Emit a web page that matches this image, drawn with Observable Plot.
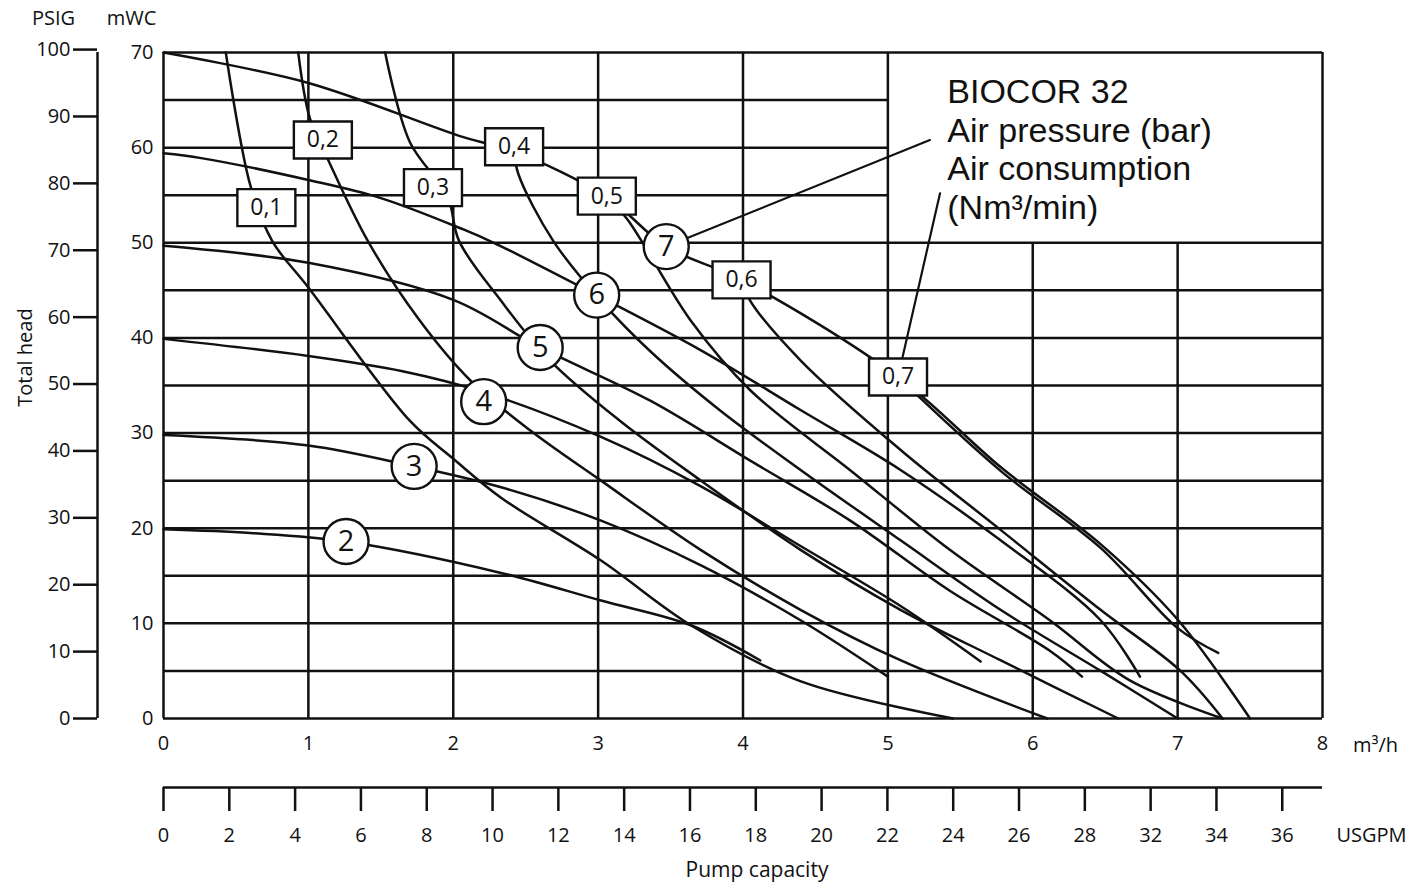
<!DOCTYPE html>
<html><head><meta charset="utf-8">
<script src="https://cdn.jsdelivr.net/npm/d3@7"></script>
<script src="https://cdn.jsdelivr.net/npm/@observablehq/plot@0.6"></script>
<style>
body{margin:0;background:#fff;}
#chart{width:1419px;height:884px;}
</style></head><body><div id="chart"></div>
<script>
// ---- data (flow in m3/h, head in mWC) ----
const m3Ticks = [0,1,2,3,4,5,6,7,8];
const mwcTicks = [0,10,20,30,40,50,60,70];
const psigTicks = [0,10,20,30,40,50,60,70,80,90,100];
const usgpmTicks = [0,2,4,6,8,10,12,14,16,18,20,22,24,26,28,30,32,34];
const usgpmLabels = ["0","2","4","6","8","10","12","14","16","18","20","22","24","26","28","32","34","36"];
const gridH = [0,5,10,15,20,25,30,35,40,45,50,70];
const gridHShort = [55,60,65];
const gridV = [0,1,2,3,4,5,8];
const gridVShort = [6,7];

// pressure curves (bar)
const p2 = [[0,19.9],[0.6,19.5],[1.26,18.6],[2.33,15.3],[3.02,12.4],[3.64,9.8],[4.12,6.1]];
const p3 = [[0,29.8],[1,28.7],[1.73,26.5],[2.33,24.3],[3.02,20.8],[3.71,16.1],[4.4,10.3],[5.0,4.4]];
const p4 = [[0,39.9],[1,38.1],[1.65,36.5],[2.21,34.3],[3.02,29.6],[3.71,24.4],[4.4,18.1],[5.09,11.8],[5.64,6.0]];
const p5 = [[0,49.7],[1,47.9],[2,44.0],[2.6,39.0],[3.36,33.4],[4.05,27.1],[4.74,20.8],[5.43,13.4],[6.12,7.1],[6.34,4.4]];
const p6 = [[0,59.4],[0.26,58.9],[1,56.6],[1.5,54.7],[2.07,51.4],[2.28,50.0],[2.99,44.5],[3.71,38.7],[4.4,32.4],[5.09,26.1],[5.78,18.7],[6.47,10.3],[6.74,4.4]];
const p7 = [[0,70],[1,66.8],[2.07,61.1],[2.42,59.6],[3.06,54.8],[3.47,49.6],[3.99,46.1],[5.07,35.9],[5.78,26.4],[6.47,18.3],[7.0,10.4],[7.5,0]];

// air consumption curves (Nm3/min)
const a01 = [[0.43,70],[0.6,56.0],[0.75,50.2],[1.0,45.3],[1.70,31.3],[2.0,27.3],[2.33,23.2],[3.02,16.6],[3.64,9.8],[4.40,3.9],[5.45,0]];
const a02 = [[0.93,70],[1.01,63.1],[1.14,58.6],[1.41,50.2],[1.77,41.8],[2.12,35.5],[2.53,30.3],[3.02,25.0],[3.71,17.7],[4.4,11.4],[5.09,6.1],[6.1,0]];
const a03 = [[1.53,70],[1.70,60.6],[1.96,54.9],[2.04,50.2],[2.33,43.9],[2.67,37.6],[3.15,31.3],[3.71,25.0],[4.4,17.7],[5.09,11.4],[5.78,6.1],[6.59,0]];
const a04 = [[2.42,59.6],[2.45,57.2],[2.69,50.2],[3.02,43.9],[3.36,38.6],[3.84,32.4],[4.4,26.1],[5.09,18.7],[5.78,11.4],[6.47,5.0],[7.0,0]];
const a05 = [[3.06,54.8],[3.2,52.5],[3.64,41.8],[4.05,34.5],[4.74,26.1],[5.43,17.7],[6.12,10.3],[6.67,4.0],[7.31,0]];
const a06 = [[3.99,46.1],[4.05,43.9],[4.40,37.6],[5.09,28.2],[5.78,19.8],[6.47,11.4],[7.02,5.0],[7.31,0]];
const a07 = [[5.07,35.9],[5.78,26.0],[6.47,17.9],[7.0,9.5],[7.28,6.9]];

const boxLabels = [
  {q:0.71, h:53.7, t:"0,1"},
  {q:1.10, h:60.8, t:"0,2"},
  {q:1.86, h:55.8, t:"0,3"},
  {q:2.42, h:60.1, t:"0,4"},
  {q:3.06, h:54.9, t:"0,5"},
  {q:3.99, h:46.1, t:"0,6"},
  {q:5.07, h:35.9, t:"0,7"}
];
const circleLabels = [
  {q:1.26, h:18.6, t:"2"},
  {q:1.73, h:26.5, t:"3"},
  {q:2.21, h:33.3, t:"4"},
  {q:2.60, h:39.0, t:"5"},
  {q:2.99, h:44.5, t:"6"},
  {q:3.47, h:49.6, t:"7"}
];
const leaderPressure = [[5.29,60.8],[3.47,49.6]];
const leaderAir = [[5.36,55.2],[5.07,35.9]];
const noteLines = "BIOCOR 32\nAir pressure (bar)\nAir consumption\n(Nm³/min)";

// ---- helpers ----
const KM = 0.70307;     // 1 PSIG in mWC
const GPM = 4.40287;    // 1 m3/h in USGPM
const ink = "#111";
const lw = 2.5;
const F = "'Open Sans', 'DejaVu Sans', sans-serif";
const usgpmMap = new Map(usgpmTicks.map((g,i)=>[g, usgpmLabels[i]]));
const rectSymbol = {draw(ctx){ ctx.moveTo(-29,-18.5); ctx.lineTo(29,-18.5); ctx.lineTo(29,18.5); ctx.lineTo(-29,18.5); ctx.closePath(); }};
const XY = {x: d=>d[0], y: d=>d[1]};
const curveMarks = [p2,p3,p4,p5,p6,p7,a01,a02,a03,a04,a05,a06,a07].map(c =>
  Plot.line(c, {...XY, curve:"catmull-rom", stroke: ink, strokeWidth: lw}));
const label = (s, anchor, dx, dy, extra={}) =>
  Plot.text([s], {frameAnchor: anchor, dx, dy, textAnchor:"middle", lineAnchor:"middle", fontSize: 20, fill: ink, ...extra});

const chart = Plot.plot({
  width: 1419, height: 884,
  marginTop: 52, marginLeft: 163, marginRight: 97, marginBottom: 166,
  x: {domain: [0,8], label: null},
  y: {domain: [0,70], label: null},
  style: {fontFamily: F, fontSize: "20px", color: ink, background: "#fff"},
  marks: [
    Plot.ruleY(gridH, {stroke: ink, strokeWidth: lw}),
    Plot.ruleY(gridHShort, {x1: 0, x2: 5, stroke: ink, strokeWidth: lw}),
    Plot.ruleX(gridV, {stroke: ink, strokeWidth: lw}),
    Plot.ruleX(gridVShort, {y1: 0, y2: 50, stroke: ink, strokeWidth: lw}),
    ...curveMarks,
    Plot.line(leaderPressure, {...XY, stroke: ink, strokeWidth: 2.2}),
    Plot.line(leaderAir, {...XY, stroke: ink, strokeWidth: 2.2}),
    Plot.dot(boxLabels, {x:"q", y:"h", symbol: rectSymbol, r: 10, fill:"#fff", stroke: ink, strokeWidth: 2.4}),
    Plot.text(boxLabels, {x:"q", y:"h", text:"t", fontSize: 23, fill: ink}),
    Plot.dot(circleLabels, {x:"q", y:"h", r: 22.5, fill:"#fff", stroke: ink, strokeWidth: 2.4}),
    Plot.text(circleLabels, {x:"q", y:"h", text:"t", fontSize: 29, fill: ink}),
    Plot.text([noteLines], {x: ()=>5.41, y: ()=>67.6, textAnchor:"start", lineAnchor:"top", lineHeight: 1.14, fontSize: 34, fontFamily: "'Liberation Sans', Arial, sans-serif", fill: ink}),
    // mWC axis
    Plot.axisY(mwcTicks, {tickSize: 0, tickPadding: 10, fontSize: 20, label: null}),
    // m3/h axis
    Plot.axisX(m3Ticks, {tickSize: 0, tickPadding: 17, fontSize: 20, tickFormat: d => String(d), label: null}),
    // PSIG axis
    Plot.ruleX([0], {dx: -66, stroke: ink, strokeWidth: lw}),
    Plot.axisY(psigTicks.map(p=>p*KM), {dx: -66, tickSize: 24, tickPadding: 3, strokeWidth: lw, fontSize: 20, tickFormat: d => String(Math.round(d/KM)), label: null}),
    // USGPM axis
    Plot.ruleY([0], {x1: 0, x2: 8, dy: 69, stroke: ink, strokeWidth: lw}),
    Plot.axisX(usgpmTicks.map(g=>g/GPM), {dy: 69, tickSize: 24, tickPadding: 16, strokeWidth: lw, fontSize: 20, tickFormat: d => usgpmMap.get(Math.round(d*GPM)), label: null}),
    // titles
    label("PSIG", "top-left", -110, -34),
    label("mWC", "top-left", -32, -34),
    label("Total head", "left", -138, -28, {rotate: -90}),
    label("m³/h", "bottom-right", 53, 27),
    label("USGPM", "bottom-right", 49, 117),
    label("Pump capacity", "bottom", 14, 152, {fontSize: 21})
  ]
});
document.getElementById("chart").appendChild(chart);
</script></body></html>
